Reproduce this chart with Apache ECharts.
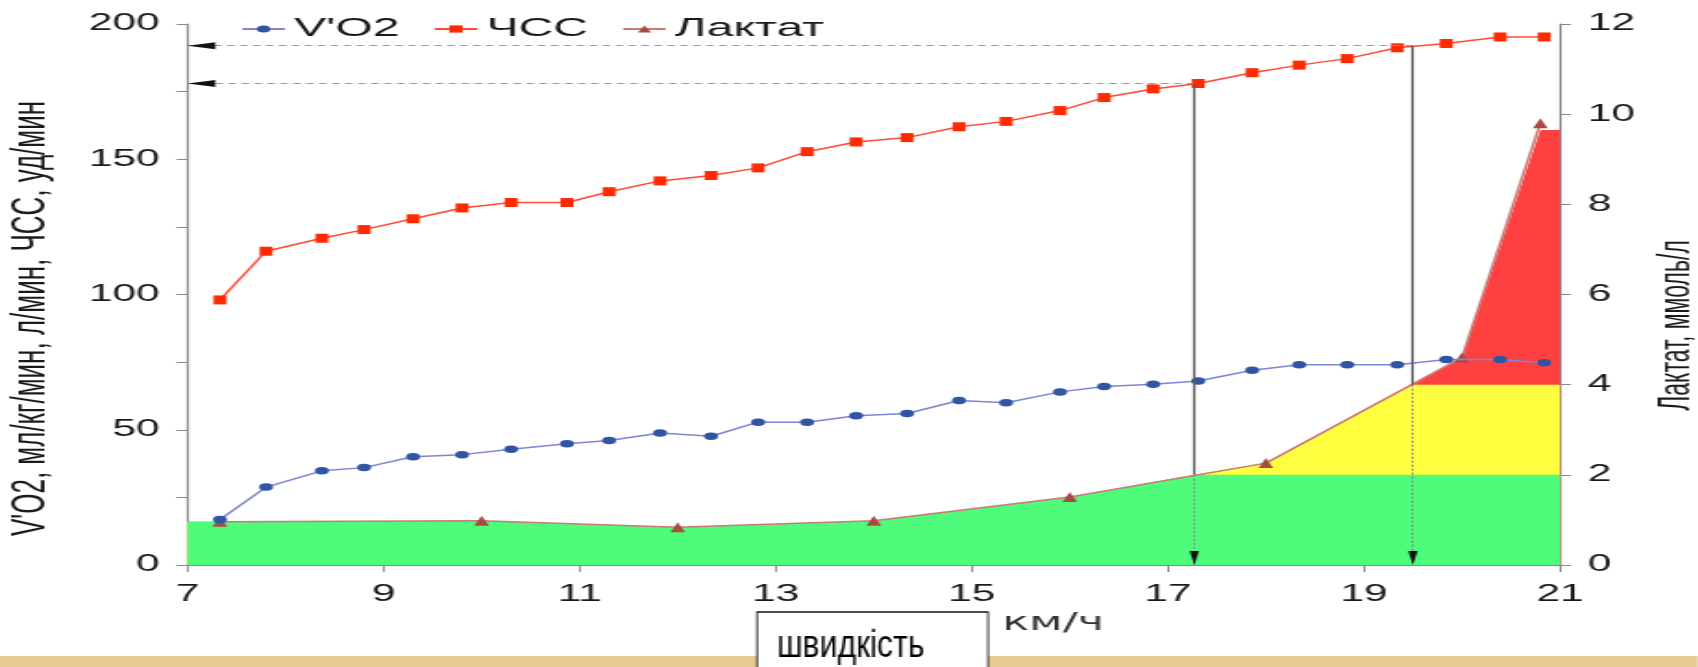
<!DOCTYPE html>
<html>
<head>
<meta charset="utf-8">
<title>Лактат, ЧСС, V'O2</title>
<script src="https://cdn.jsdelivr.net/npm/echarts@6/dist/echarts.min.js"></script>
<style>
    html, body { margin: 0; padding: 0; background: #fff; overflow: hidden; }
    /* исходная картинка растянута по горизонтали */
    #chart { width: 918px; height: 667px; transform: scaleX(1.85); transform-origin: 0 0; }
</style>
</head>
<body>
<div id="chart"></div>
<script>
var S = 1.85;

// скорость, км/ч
var speed = [7.33, 7.8, 8.37, 8.8, 9.3, 9.8, 10.3, 10.87, 11.3, 11.82, 12.34, 12.82, 13.32, 13.82,
    14.34, 14.87, 15.35, 15.9, 16.35, 16.85, 17.31, 17.86, 18.34, 18.83, 19.34, 19.84, 20.39, 20.84];
var vo2 = [16.8, 28.8, 34.8, 36, 40, 40.8, 42.8, 44.8, 46, 48.8, 47.6, 52.8, 52.8, 55.2,
    56, 60.8, 60, 64, 66, 66.8, 68, 72, 74, 74, 74, 76, 76, 74.8];
var hr = [98, 116, 120.8, 124, 128, 132, 134, 134, 138, 142, 144, 146.8, 152.8, 156.4,
    158, 162, 164, 168, 172.8, 176, 178, 182, 184.8, 187.2, 191.2, 192.8, 195.2, 195.2];

var lactSpeed = [7.33, 10, 12, 14, 16, 18, 20, 20.8];
var lactate = [0.96, 0.98, 0.84, 0.98, 1.51, 2.26, 4.6, 9.8];

// контур зон под кривой лактата
var zoneSpeed = [7, 7.33, 10, 12, 14, 16, 17.27, 18, 19.5, 20, 20.8, 21];
var zoneLevel = [0.96, 0.96, 0.98, 0.84, 0.98, 1.51, 2, 2.26, 4, 4.6, 9.65, 9.65];

// пороги
var thrSpeed = [17.27, 19.5];
var thrHr = [178, 192];
var thrLactate = [2, 4];

var xTicks = [7, 9, 11, 13, 15, 17, 19, 21];

var FONT = '"Liberation Sans", Arial, sans-serif';
var AXIS = '#8a8a8a';

function pairs(xs, ys) {
    return xs.map(function (x, i) { return [x, ys[i]]; });
}
function capped(cap) {
    return zoneLevel.map(function (v) { return Math.min(v, cap); });
}

// лактат -> шкала левой оси (0..12 -> 0..200)
function lactToLeft(v) { return v * 200 / 12; }

// зоны рисуются друг поверх друга: красная целиком, жёлтая до 4, зелёная до 2
function zone(name, data, color, z) {
    return {
        name: name, type: 'line', yAxisIndex: 1, symbol: 'none',
        data: pairs(zoneSpeed, data), silent: true, z: z,
        lineStyle: { width: 0, opacity: 0 },
        areaStyle: { color: color, opacity: 1 }
    };
}

var chart = echarts.init(document.getElementById('chart'));

var guideLines = [];
var arrows = [];
thrSpeed.forEach(function (s, i) {
    guideLines.push([
        { coord: [s, thrHr[i]] },
        { coord: [7, thrHr[i]], lineStyle: { color: '#9a9a9a', width: 1, type: [4, 3] } }
    ]);
    guideLines.push([
        { coord: [s, thrHr[i]] },
        { coord: [s, lactToLeft(thrLactate[i])], lineStyle: { color: '#5a5a5a', width: 1.3, type: 'solid' } }
    ]);
    guideLines.push([
        { coord: [s, lactToLeft(thrLactate[i])] },
        { coord: [s, 0], lineStyle: { color: '#8a8a8a', width: 1, type: [2, 2] } }
    ]);
    arrows.push({ coord: [7, thrHr[i]], symbol: 'triangle', symbolSize: [7, 15], symbolRotate: 90, symbolOffset: [7.5, 0] });
    arrows.push({ coord: [s, 0], symbol: 'triangle', symbolSize: [5, 14], symbolRotate: 180, symbolOffset: [0, -7] });
});

var option = {
    animation: false,
    backgroundColor: '#fff',
    grid: { left: 101.4, right: 74.8, top: 24, bottom: 102, outerBoundsMode: 'none', containLabel: false },
    legend: {
        data: ["V'O2", 'ЧСС', 'Лактат'],
        left: 125, top: 11,
        itemWidth: 23, itemHeight: 9, itemGap: 18,
        textStyle: { fontSize: 26, fontFamily: FONT, color: '#1a1a1a' }
    },
    xAxis: {
        type: 'value', min: 7, max: 21, interval: 2,
        axisLine: { onZero: false, lineStyle: { color: AXIS, width: 1.2 } },
        axisTick: { show: true, length: 7, customValues: xTicks, lineStyle: { color: AXIS } },
        axisLabel: { margin: 18, fontSize: 23, fontFamily: FONT, color: '#1a1a1a', customValues: xTicks },
        splitLine: { show: false },
        name: 'км/ч', nameLocation: 'middle', nameGap: 47,
        nameTextStyle: { fontSize: 24, fontFamily: '"DejaVu Sans", sans-serif', color: '#333', padding: [0, 0, 0, 194] }
    },
    yAxis: [{
        type: 'value', min: 0, max: 200, interval: 50, position: 'left',
        axisLine: { show: true, lineStyle: { color: AXIS, width: 1.2 } },
        axisTick: { show: true, length: 6, lineStyle: { color: AXIS } },
        minorTick: { show: true, splitNumber: 2, length: 6, lineStyle: { color: AXIS } },
        axisLabel: { margin: 15, fontSize: 23, fontFamily: FONT, color: '#1a1a1a' },
        splitLine: { show: false },
        name: "V'O2, мл/кг/мин, л/мин, ЧСС, уд/мин",
        nameLocation: 'middle', nameRotate: 90, nameGap: 72,
        nameTextStyle: { fontSize: 26, fontFamily: FONT, color: '#1a1a1a', padding: [0, 48, 0, 0] }
    }, {
        type: 'value', min: 0, max: 12, interval: 2, position: 'right',
        axisLine: { show: true, lineStyle: { color: AXIS, width: 1.2 } },
        axisTick: { show: true, length: 6, lineStyle: { color: AXIS } },
        axisLabel: { margin: 15, fontSize: 23, fontFamily: FONT, color: '#1a1a1a' },
        splitLine: { show: false },
        name: 'Лактат, ммоль/л',
        nameLocation: 'middle', nameRotate: 90, nameGap: 40,
        nameTextStyle: { fontSize: 23, fontFamily: FONT, color: '#1a1a1a', padding: [0, 62, 0, 0] }
    }],
    series: [
        zone('зона 3', zoneLevel, '#ff4040', 1),
        zone('зона 2', capped(thrLactate[1]), '#ffff40', 1),
        zone('зона 1', capped(thrLactate[0]), '#4efb7b', 1),
        {
            name: 'Лактат', type: 'line', yAxisIndex: 1, z: 3,
            data: pairs(lactSpeed, lactate),
            symbol: 'triangle', symbolSize: [8, 10],
            itemStyle: { color: '#a84a42' },
            lineStyle: { color: '#cc7a74', width: 1.5 }
        },
        {
            name: "V'O2", type: 'line', z: 4,
            data: pairs(speed, vo2),
            symbol: 'circle', symbolSize: 7.5,
            itemStyle: { color: '#2f55a4' },
            lineStyle: { color: '#7f86d6', width: 1.5 }
        },
        {
            name: 'ЧСС', type: 'line', z: 4,
            data: pairs(speed, hr),
            symbol: 'rect', symbolSize: [7, 9],
            itemStyle: { color: '#ff2a00' },
            lineStyle: { color: '#ff4d3a', width: 1.5 },
            markLine: {
                silent: true, animation: false, symbol: 'none',
                label: { show: false },
                data: guideLines
            },
            markPoint: {
                silent: true, animation: false,
                label: { show: false },
                itemStyle: { color: '#111' },
                data: arrows
            }
        }
    ],
    graphic: [
        {
            // полоса внизу и подпись в рамке, в неискажённых пикселях
            type: 'group', x: 757 / S, y: 0, scaleX: 1 / S, silent: true,
            children: [
                {
                    type: 'rect', x: -757, y: 656,
                    shape: { width: 757, height: 12 },
                    style: { fill: '#e6cb95' }
                },
                {
                    type: 'rect', x: 231, y: 656,
                    shape: { width: 710, height: 12 },
                    style: { fill: '#e6cb95' }
                },
                {
                    type: 'rect', x: 0, y: 612,
                    shape: { width: 231, height: 70 },
                    style: { fill: '#fff', stroke: '#111', lineWidth: 1.5 }
                },
                {
                    type: 'text', x: 20, y: 647, scaleX: 0.84,
                    style: { text: 'швидкість', font: '38px "Liberation Sans", Arial, sans-serif', fill: '#000', verticalAlign: 'middle' }
                }
            ]
        }
    ]
};

chart.setOption(option);
</script>
</body>
</html>
